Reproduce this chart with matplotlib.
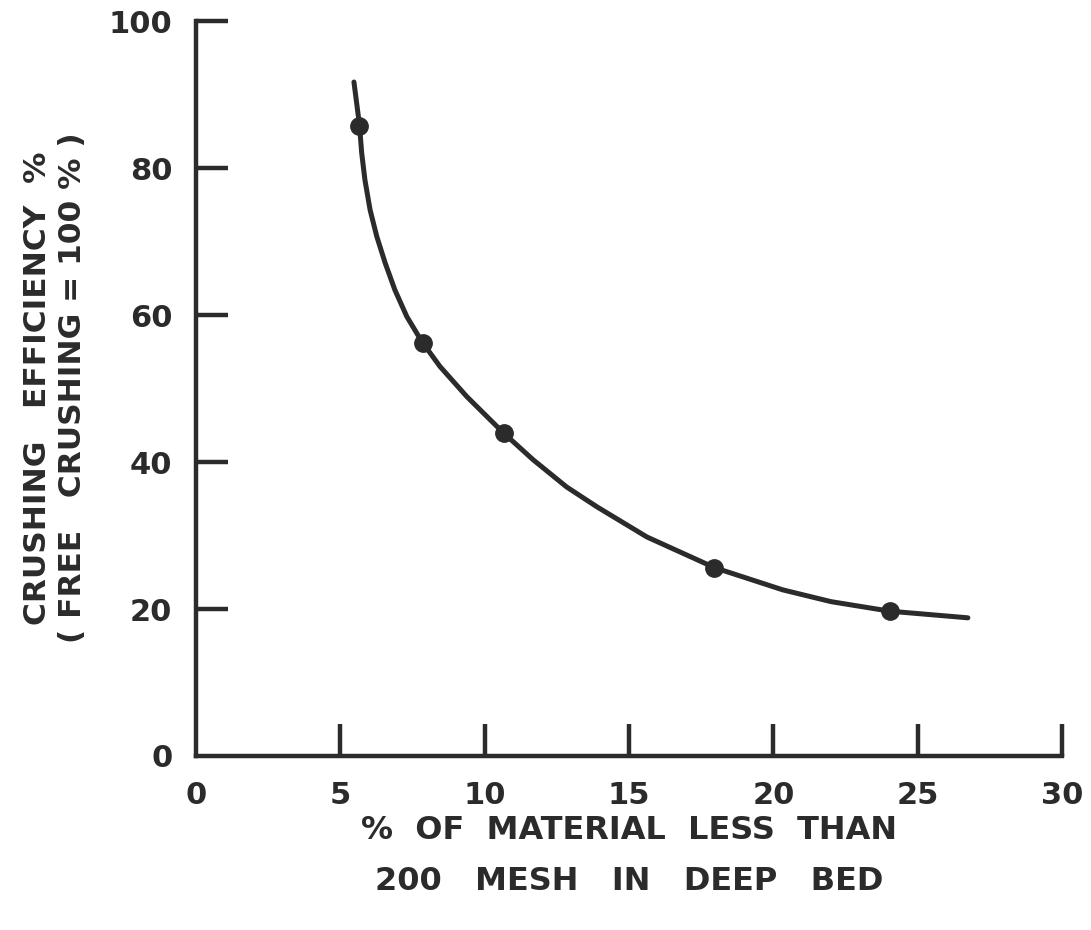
import matplotlib
matplotlib.use("Agg")
import matplotlib.pyplot as plt

# Measured points
pct_fines = [5.65, 7.86, 10.67, 17.94, 24.04]
efficiency = [85.7, 56.2, 43.9, 25.6, 19.7]

# Faired curve through the data
curve_x = [5.47, 5.66, 5.74, 5.85, 6.03, 6.26, 6.55, 6.89, 7.30, 7.82, 8.45,
           9.38, 10.64, 11.68, 12.84, 13.89, 15.62, 17.98, 20.33,
           22.0, 24.04, 26.74]
curve_y = [91.7, 85.9, 82.0, 78.4, 74.3, 70.7, 67.1, 63.4, 59.8, 56.4, 53.0,
           48.9, 44.0, 40.3, 36.6, 33.9, 29.8, 25.6, 22.6,
           21.0, 19.7, 18.8]

x_ticks = [0, 5, 10, 15, 20, 25, 30]
x_tick_labels = ["0", "5", "10", "15", "20", "25", "30"]
y_ticks = [0, 20, 40, 60, 80, 100]
y_tick_labels = ["0", "20", "40", "60", "80", "100"]

ink = "#2b2b2b"
plt.rcParams["font.family"] = ["DejaVu Sans"]
plt.rcParams["font.weight"] = "bold"

fig = plt.figure(figsize=(10.91, 9.30), dpi=100)
ax = fig.add_axes([0.1797, 0.1871, 0.7937, 0.7903])

ax.plot(curve_x, curve_y, color=ink, lw=3.6, solid_capstyle="round",
        solid_joinstyle="round", zorder=3)
ax.plot(pct_fines, efficiency, "o", color=ink, ms=12.5, zorder=4)

ax.set_xlim(0, 30)
ax.set_ylim(0, 100)
ax.set_xticks(x_ticks)
ax.set_xticklabels(x_tick_labels)
ax.set_yticks(y_ticks)
ax.set_yticklabels(y_tick_labels)

for side in ("top", "right"):
    ax.spines[side].set_visible(False)
for side in ("left", "bottom"):
    ax.spines[side].set_linewidth(3.2)
    ax.spines[side].set_color(ink)
    ax.spines[side].set_capstyle("projecting")

ax.tick_params(axis="both", direction="in", length=23, width=3.2,
               color=ink, labelcolor=ink, labelsize=22)
ax.tick_params(axis="x", pad=18)
ax.tick_params(axis="y", pad=17)
for lbl in ax.get_xticklabels() + ax.get_yticklabels():
    lbl.set_fontweight("bold")

# no tick marks at the origin, only the labels
ax.xaxis.get_major_ticks()[0].tick1line.set_visible(False)
ax.yaxis.get_major_ticks()[0].tick1line.set_visible(False)

fig.text(0.5765, 0.0796,
         "%  OF  MATERIAL  LESS  THAN\n200   MESH   IN   DEEP   BED",
         ha="center", va="center", fontsize=23, fontweight="bold",
         color=ink, linespacing=1.86)
fig.text(0.0504, 0.5828,
         "CRUSHING   EFFICIENCY  %\n( FREE   CRUSHING = 100 % )",
         ha="center", va="center", rotation=90, fontsize=22.5,
         fontweight="bold", color=ink, linespacing=1.28)

fig.savefig("out.png", dpi=100, facecolor="white")
